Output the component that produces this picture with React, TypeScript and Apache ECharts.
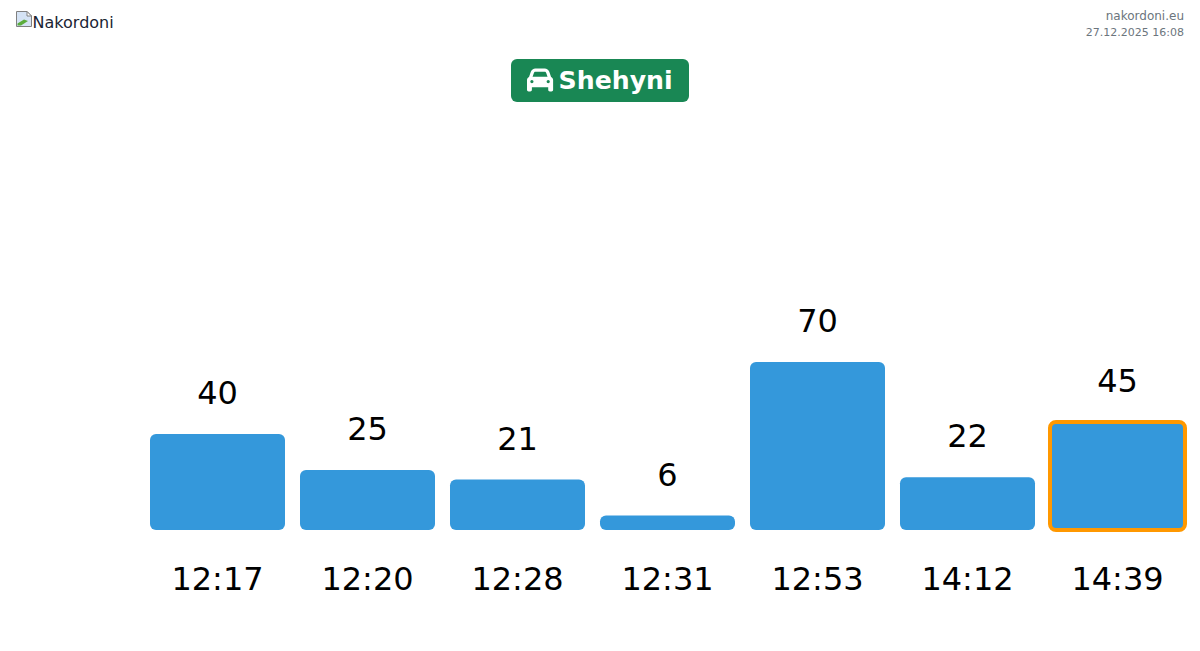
import React, { useEffect, useRef } from "react";
import * as echarts from "echarts";

const times = ["12:17", "12:20", "12:28", "12:31", "12:53", "14:12", "14:39"];
const values = [40, 25, 21, 6, 70, 22, 45];
const highlightedTime = "14:39";
const crossing = "Shehyni";
const siteName = "nakordoni.eu";
const stamp = "27.12.2025 16:08";
const brand = "Nakordoni";

const carPath =
  "M135.2 117.4L109.1 192H402.9l-26.1-74.6C372.3 104.6 360.2 96 346.6 96H165.4c-13.6 0-25.7 8.6-30.2 21.4zM39.6 196.8L74.8 96.3C88.3 57.8 124.6 32 165.4 32H346.6c40.8 0 77.1 25.8 90.6 64.3l35.2 100.5c23.2 9.6 39.6 32.5 39.6 59.2V400v48c0 17.7-14.3 32-32 32H448c-17.7 0-32-14.3-32-32V400H96v48c0 17.7-14.3 32-32 32H32c-17.7 0-32-14.3-32-32V400 256c0-26.7 16.4-49.6 39.6-59.2zM128 288a32 32 0 1 0 -64 0 32 32 0 1 0 64 0zm288 32a32 32 0 1 0 0-64 32 32 0 1 0 0 64z";

echarts.graphic.registerShape("car", echarts.graphic.extendPath(carPath, {}) as any);

const FONT = "'DejaVu Sans', sans-serif";
const BAR_WIDTH = 135;

export default function App() {
  const ref = useRef<HTMLDivElement>(null);
  useEffect(() => {
    const chart = echarts.init(ref.current!, undefined, { renderer: "svg" });
    const highlighted = times.indexOf(highlightedTime);
    chart.setOption({
      animation: false,
      backgroundColor: "#ffffff",
      grid: { left: 142.5, width: 1050, top: 50, height: 480 },
      xAxis: {
        type: "category",
        data: times,
        axisLine: { show: false },
        axisTick: { show: false },
        axisLabel: { fontFamily: FONT, fontSize: 32, color: "#000000", margin: 33 },
      },
      yAxis: { type: "value", min: 0, max: 200, show: false, splitLine: { show: false } },
      series: [
        {
          type: "bar",
          barWidth: BAR_WIDTH,
          data: values,
          itemStyle: { color: "#3498db", borderRadius: 6 },
          label: {
            show: true,
            position: "top",
            distance: 25,
            fontFamily: FONT,
            fontSize: 32,
            color: "#000000",
          },
          silent: true,
        },
        {
          type: "custom",
          silent: true,
          z: 5,
          data: [[highlighted, values[highlighted]]],
          encode: { x: 0, y: 1 },
          renderItem: (_p: any, api: any) => {
            const top = api.coord([api.value(0), api.value(1)]);
            const base = api.coord([api.value(0), 0]);
            return {
              type: "rect",
              shape: {
                x: top[0] - BAR_WIDTH / 2,
                y: top[1],
                width: BAR_WIDTH,
                height: base[1] - top[1],
                r: 6,
              },
              style: { fill: "none", stroke: "#ff9800", lineWidth: 4 },
            };
          },
        },
      ],
      graphic: [
        // broken-image placeholder
        { type: "polygon", shape: { points: [[16.5, 11.5], [27, 11.5], [31.5, 16], [31.5, 26.5], [16.5, 26.5]] }, style: { fill: "#d5e3f5", stroke: "#808080", lineWidth: 1 } },
        { type: "polygon", shape: { points: [[17.5, 25.5], [21, 25.5], [28, 21], [24, 19.5], [17.5, 23.5]] }, style: { fill: "#5bad3c" } },
        { type: "polygon", shape: { points: [[27, 11.5], [27, 16], [31.5, 16]] }, style: { fill: "#ffffff", stroke: "#808080", lineWidth: 1 } },
        { type: "text", x: 32.6, y: 14, style: { text: brand, font: `16px ${FONT}`, fill: "#1a2433" } },
        { type: "text", x: 1184, y: 10, style: { text: siteName, font: `12px ${FONT}`, fill: "#6c757d", align: "right" } },
        { type: "text", x: 1184, y: 27, style: { text: stamp, font: `11px ${FONT}`, fill: "#6c757d", align: "right" } },
        { type: "rect", shape: { x: 511, y: 59, width: 178, height: 43, r: 6 }, style: { fill: "#198754" } },
        { type: "car", x: 527, y: 66.9, scaleX: 0.0508, scaleY: 0.0508, style: { fill: "#ffffff" } },
        { type: "text", x: 558.6, y: 68, style: { text: crossing, font: `bold 25.2px ${FONT}`, fill: "#ffffff" } },
      ],
    });
    return () => chart.dispose();
  }, []);
  return (
    <div
      ref={ref}
      style={{ position: "absolute", left: 0, top: 0, width: 1200, height: 651 }}
    />
  );
}
